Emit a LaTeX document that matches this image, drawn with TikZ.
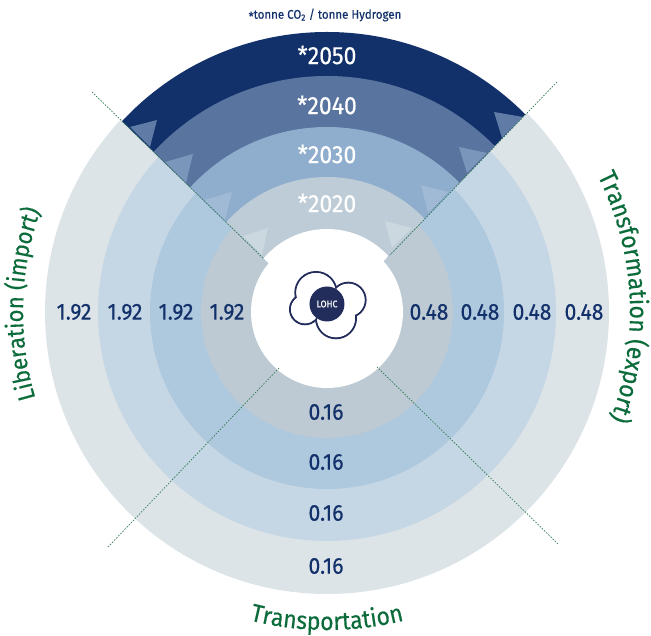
\documentclass[tikz,border=0pt]{standalone}
\usepackage{fontspec}
\setmainfont{Fira Sans}
\newfontfamily\dinfont[FakeStretch=0.92, FakeBold=0.35]{Fira Sans}
\usepackage{tikz}
\usetikzlibrary{decorations.text}
\definecolor{navy}{HTML}{12306A}
\definecolor{logonavy}{HTML}{232D5C}
\definecolor{leafgreen}{HTML}{0B6B3A}
\definecolor{sepgreen}{HTML}{2F7A52}
\definecolor{topa}{HTML}{12306A}
\definecolor{topb}{HTML}{58749F}
\definecolor{topc}{HTML}{8FADCC}
\definecolor{topd}{HTML}{BDCCD6}
\definecolor{lowa}{HTML}{DDE4E8}
\definecolor{lowb}{HTML}{C5D6E4}
\definecolor{lowc}{HTML}{AEC8DE}
\definecolor{lowd}{HTML}{BDCAD3}
\definecolor{tipb}{HTML}{5F7BA6}
\definecolor{tipc}{HTML}{7A96BB}
\definecolor{tipd}{HTML}{A0BAD5}
\definecolor{tipe}{HTML}{CBD8DF}
\tikzset{
    yearlabel/.style={text=white, inner sep=0pt, font=\dinfont\fontsize{25}{25}\selectfont},
    valuelabel/.style={text=navy, inner sep=0pt, font=\dinfont\fontsize{23}{23}\selectfont},
    separator/.style={sepgreen, line width=0.7pt, dash pattern=on 1.5pt off 1.5pt},
    lobe/.style={draw=logonavy, line width=2pt, fill=white},
    lobeinner/.style={fill=white}
}
\begin{document}
\begin{tikzpicture}[x=1pt, y=1pt]
    \useasboundingbox (-327,-324) rectangle (324,312);

    % lower rings, full circles
    \foreach \r/\c in {282/lowa, 229/lowb, 177/lowc, 126/lowd} {
        \fill[\c] (0,0) circle (\r);
    }

    % upper wedge, slightly wider rings
    \begin{scope}
        \clip (0,-8) -- (-320,302) -- (320,324) -- cycle;
        \foreach \r/\c in {300/white, 280/topa, 236/topb, 185/topc, 135/topd, 83/white} {
            \fill[\c] (0,0) circle (\r);
        }
    \end{scope}
    \fill[white] (0,0) circle (76);

    % small tips, left edge of wedge
    \fill[tipb] (-197,185) -- (-170,192) -- (-177,165) -- cycle;
    \fill[tipc] (-162,150) -- (-134,158) -- (-141,129) -- cycle;
    \fill[tipd] (-123,112) -- (-95,120) -- (-102,92) -- cycle;
    \fill[tipe] (-84,76) -- (-59,84) -- (-65,57) -- cycle;

    % small tips, right edge of wedge
    \fill[tipb] (167,200) -- (196,195) -- (175,174) -- cycle;
    \fill[tipc] (132,165) -- (160,159) -- (140,139) -- cycle;
    \fill[tipd] (94,127) -- (121,120) -- (101,99) -- cycle;
    \fill[tipe] (58,91) -- (85,84) -- (65,64) -- cycle;

    % separators
    \draw[separator] (-235,220) -- (-64,54);
    \draw[separator] (230,230) -- (63,57);
    \draw[separator] (-219,-235) -- (-47,-55);
    \draw[separator] (231,-232) -- (50,-55);

    % year labels
    \node[yearlabel] (yeara) at (0,257) {*2050};
    \node[yearlabel] (yearb) at (0,207) {*2040};
    \node[yearlabel] (yearc) at (0,158) {*2030};
    \node[yearlabel] (yeard) at (0,109) {*2020};

    % values
    \foreach \x in {-253,-202,-151,-100} {
        \node[valuelabel] (liberation\x) at (\x,0) {1.92};
    }
    \foreach \x in {102,153,205,257} {
        \node[valuelabel] (transform\x) at (\x,0) {0.48};
    }
    \foreach \y in {-100,-150,-201,-254} {
        \node[valuelabel] (transport\y) at (-1,\y) {0.16};
    }

    % header
    \node[text=navy, inner sep=0pt, font=\dinfont\fontsize{12.5}{12.5}\selectfont] (header) at (-2,297)
        {\raisebox{-0.35ex}{*}tonne CO\textsubscript{2} / tonne Hydrogen};

    % cloud
    \foreach \x/\y/\r in {-11/19.3/20.7, 21.3/12/17.3, 9/-6.3/20, -22/2.7/15} {
        \filldraw[lobe] (\x,\y) circle (\r);
    }
    \foreach \x/\y/\r in {-11/19.3/20.7, 21.3/12/17.3, 9/-6.3/20, -22/2.7/15} {
        \fill[lobeinner] (\x,\y) circle (\r-1);
    }
    \node[circle, fill=logonavy, minimum size=35pt, inner sep=0pt, text=white,
        font=\dinfont\fontsize{9.5}{9.5}\selectfont] (lohc) at (0,8) {LOHC};

    % curved titles
    \path[decorate, decoration={text along path, text align=center,
        text={|\dinfont\fontsize{24}{24}\selectfont\color{leafgreen}|Liberation (import)}}]
        (197:304) arc (197:160:304);
    \path[decorate, decoration={text along path, text align=center,
        text={|\dinfont\fontsize{25}{25}\selectfont\color{leafgreen}|Transformation (export)}}]
        (28:303) arc (28:-22:303);
    \path[decorate, decoration={text along path, text align=center,
        text={|\dinfont\fontsize{25}{25}\selectfont\color{leafgreen}|Transportation}}]
        (255:318) arc (255:285:318);
\end{tikzpicture}
\end{document}
